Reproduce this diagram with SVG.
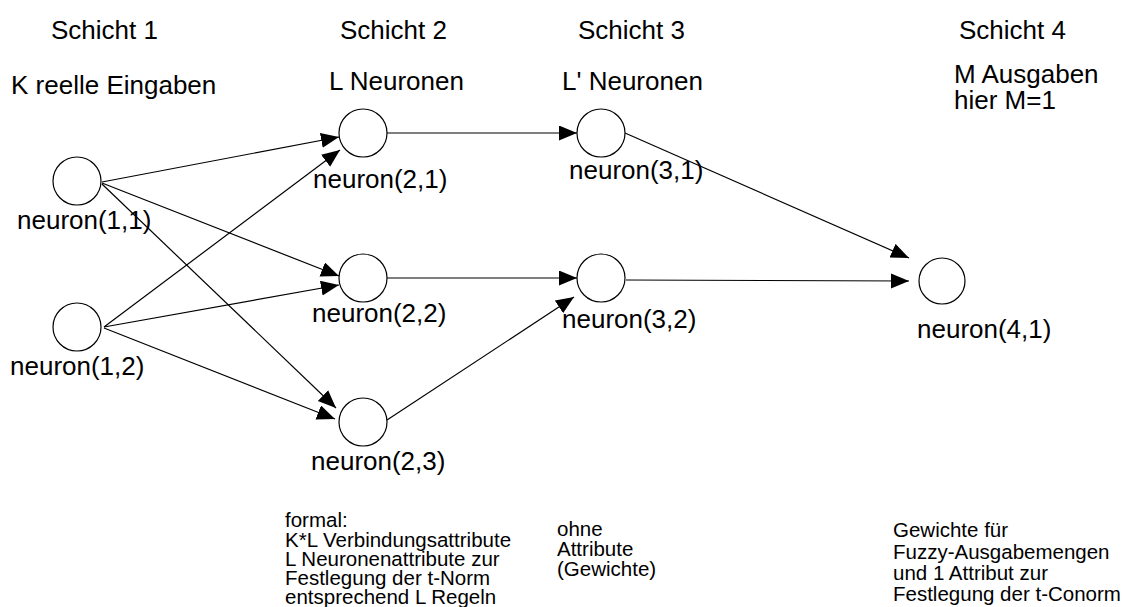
<svg xmlns="http://www.w3.org/2000/svg" width="1125" height="607" viewBox="0 0 1125 607">
  <style>
    .bg { fill: #ffffff; }
    .neuron { fill: #ffffff; stroke: #000000; stroke-width: 1.2; }
    .edge { fill: none; stroke: #000000; stroke-width: 1.2; marker-end: url(#head); }
    text { font-family: "Liberation Sans", Arial, sans-serif; fill: #000000; }
    .big { font-size: 26px; }
    .note { font-size: 20.5px; }
  </style>
  <defs>
    <marker id="head" markerUnits="userSpaceOnUse" markerWidth="19" markerHeight="16" refX="18" refY="7.5" orient="auto">
      <path d="M0,0 L18,7.5 L0,15 z" fill="#000000"/>
    </marker>
  </defs>
  <rect class="bg" x="0" y="0" width="1125" height="607"/>

  <!-- layer headings -->
  <g id="headings">
    <text class="big" x="51" y="39">Schicht 1</text>
    <text class="big" x="340" y="39">Schicht 2</text>
    <text class="big" x="578" y="39">Schicht 3</text>
    <text class="big" x="959" y="39">Schicht 4</text>
    <text class="big" x="11" y="94">K reelle Eingaben</text>
    <text class="big" x="329" y="90">L Neuronen</text>
    <text class="big" x="562" y="90">L' Neuronen</text>
    <text class="big" x="954" y="83">M Ausgaben</text>
    <text class="big" x="954" y="109">hier M=1</text>
  </g>

  <!-- connections -->
  <g id="connectors">
    <line class="edge" x1="102" y1="182" x2="339" y2="137"/>
    <line class="edge" x1="102" y1="183" x2="339" y2="276"/>
    <line class="edge" x1="102" y1="184" x2="336" y2="408"/>
    <line class="edge" x1="104" y1="327" x2="340" y2="150"/>
    <line class="edge" x1="104" y1="327" x2="339" y2="285"/>
    <line class="edge" x1="104" y1="328" x2="335" y2="419"/>
    <line class="edge" x1="387" y1="133" x2="577" y2="133"/>
    <line class="edge" x1="387" y1="278" x2="577" y2="278"/>
    <line class="edge" x1="387" y1="420" x2="574" y2="297"/>
    <line class="edge" x1="625" y1="133" x2="909" y2="258"/>
    <line class="edge" x1="626" y1="280" x2="909" y2="281"/>
  </g>

  <!-- neurons -->
  <g id="neuron-1-1">
    <circle class="neuron" cx="77" cy="181" r="24"/>
    <text class="big" x="17" y="229">neuron(1,1)</text>
  </g>
  <g id="neuron-1-2">
    <circle class="neuron" cx="77" cy="327" r="24"/>
    <text class="big" x="10" y="375">neuron(1,2)</text>
  </g>
  <g id="neuron-2-1">
    <circle class="neuron" cx="363" cy="133" r="24"/>
    <text class="big" x="313" y="188">neuron(2,1)</text>
  </g>
  <g id="neuron-2-2">
    <circle class="neuron" cx="363" cy="278" r="24"/>
    <text class="big" x="312" y="322">neuron(2,2)</text>
  </g>
  <g id="neuron-2-3">
    <circle class="neuron" cx="363" cy="422" r="24"/>
    <text class="big" x="311" y="470">neuron(2,3)</text>
  </g>
  <g id="neuron-3-1">
    <circle class="neuron" cx="601" cy="133" r="24"/>
    <text class="big" x="569" y="179">neuron(3,1)</text>
  </g>
  <g id="neuron-3-2">
    <circle class="neuron" cx="601" cy="278" r="24"/>
    <text class="big" x="562" y="328">neuron(3,2)</text>
  </g>
  <g id="neuron-4-1">
    <circle class="neuron" cx="942" cy="281" r="23"/>
    <text class="big" x="917" y="338">neuron(4,1)</text>
  </g>

  <!-- annotations below the layers -->
  <g id="notes">
    <text class="note" x="285">
      <tspan x="285" y="527">formal:</tspan>
      <tspan x="285" y="546.5">K*L Verbindungsattribute</tspan>
      <tspan x="285" y="566">L Neuronenattribute zur</tspan>
      <tspan x="285" y="585">Festlegung der t-Norm</tspan>
      <tspan x="285" y="604">entsprechend L Regeln</tspan>
    </text>
    <text class="note" x="557">
      <tspan x="557" y="536">ohne</tspan>
      <tspan x="557" y="556">Attribute</tspan>
      <tspan x="557" y="576">(Gewichte)</tspan>
    </text>
    <text class="note" x="893">
      <tspan x="893" y="537">Gewichte für</tspan>
      <tspan x="893" y="558.5">Fuzzy-Ausgabemengen</tspan>
      <tspan x="893" y="580">und 1 Attribut zur</tspan>
      <tspan x="893" y="601">Festlegung der t-Conorm</tspan>
    </text>
  </g>
</svg>
